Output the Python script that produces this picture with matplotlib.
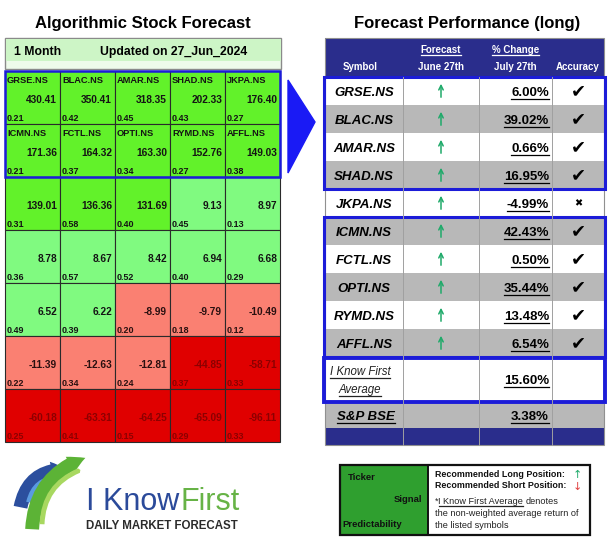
import matplotlib
matplotlib.use('Agg')
import matplotlib.pyplot as plt
from matplotlib.patches import Rectangle, Polygon, FancyArrowPatch

plt.rcParams['font.family'] = ['Liberation Sans', 'DejaVu Sans']

# ---- data: left heat grid ----
grid_tickers = [
    ['GRSE.NS', 'BLAC.NS', 'AMAR.NS', 'SHAD.NS', 'JKPA.NS'],
    ['ICMN.NS', 'FCTL.NS', 'OPTI.NS', 'RYMD.NS', 'AFFL.NS'],
]
grid_signals = [
    [430.41, 350.41, 318.35, 202.33, 176.40],
    [171.36, 164.32, 163.30, 152.76, 149.03],
    [139.01, 136.36, 131.69, 9.13, 8.97],
    [8.78, 8.67, 8.42, 6.94, 6.68],
    [6.52, 6.22, -8.99, -9.79, -10.49],
    [-11.39, -12.63, -12.81, -44.85, -58.71],
    [-60.18, -63.31, -64.25, -65.09, -96.11],
]
grid_predict = [
    [0.21, 0.42, 0.45, 0.43, 0.27],
    [0.21, 0.37, 0.34, 0.27, 0.38],
    [0.31, 0.58, 0.40, 0.45, 0.13],
    [0.36, 0.57, 0.52, 0.40, 0.29],
    [0.49, 0.39, 0.20, 0.18, 0.12],
    [0.22, 0.34, 0.24, 0.37, 0.33],
    [0.25, 0.41, 0.15, 0.29, 0.33],
]

# ---- data: right performance table ----
perf_symbols = ['GRSE.NS', 'BLAC.NS', 'AMAR.NS', 'SHAD.NS', 'JKPA.NS',
                'ICMN.NS', 'FCTL.NS', 'OPTI.NS', 'RYMD.NS', 'AFFL.NS']
perf_change = [6.00, 39.02, 0.66, 16.95, -4.99, 42.43, 0.50, 35.44, 13.48, 6.54]
perf_hit = [True, True, True, True, False, True, True, True, True, True]
avg_change = 15.60
bse_change = 3.38

NAVY = '#2a2d8c'
BLUE = '#1c1cd8'
GRAY_ROW = '#b8b8b8'


def cell_colors(v):
    if v >= 100:
        return '#62f22a', '#141414'
    if v > 0:
        return '#80fa80', '#141414'
    if v > -20:
        return '#fa8072', '#2a1010'
    return '#e00000', '#8c0000'


fig = plt.figure(figsize=(6.12, 5.45), dpi=100)
ax = fig.add_axes([0, 0, 1, 1])
ax.set_xlim(0, 612)
ax.set_ylim(545, 0)
ax.axis('off')
renderer = fig.canvas.get_renderer()
inv = ax.transData.inverted()


def right_edge(t):
    # data x of a text's right end, used to chain texts on one line
    bb = t.get_window_extent(renderer)
    return inv.transform([[bb.x1, bb.y0]])[0][0]


underlined = []

# ---------------- left panel ----------------
ax.text(143, 28, 'Algorithmic Stock Forecast', ha='center', fontsize=12, weight='bold')
ax.add_patch(Rectangle((5, 38), 276, 31, facecolor='#eefbea', edgecolor='#8a8a8a', lw=1))
ax.add_patch(Rectangle((5.5, 38.5), 275, 22, facecolor='#cdf5c6', edgecolor='none'))
ax.text(14, 55, '1 Month', fontsize=8.8, weight='bold')
ax.text(100, 55, 'Updated on 27_Jun_2024', fontsize=8.8, weight='bold')

GX0, GY0, CW, CH = 5, 71, 55, 53
for r, (vals, preds) in enumerate(zip(grid_signals, grid_predict)):
    for c, (v, p) in enumerate(zip(vals, preds)):
        x, y = GX0 + c * CW, GY0 + r * CH
        fc, tc = cell_colors(v)
        ax.add_patch(Rectangle((x, y), CW, CH, facecolor=fc, edgecolor='#2a2a2a', lw=0.8))
        if r < len(grid_tickers):
            ax.text(x + 2, y + 12, grid_tickers[r][c], fontsize=6.7, weight='bold', color=tc)
        ax.text(x + CW - 3, y + 32, f'{v:.2f}', ha='right', fontsize=7.3, weight='bold', color=tc)
        ax.text(x + 2, y + CH - 3, f'{p:.2f}', fontsize=6.5, weight='bold', color=tc)
ax.add_patch(Rectangle((GX0, GY0), 5 * CW, len(grid_tickers) * CH, facecolor='none',
                       edgecolor=BLUE, lw=1.8))

# blue pointer between panels
ax.add_patch(Polygon([[288, 80], [288, 173], [315, 122]], closed=True, color='#1a1af5'))

# ---------------- logo ----------------
ax.add_patch(FancyArrowPatch((20, 510), (70, 470), connectionstyle='arc3,rad=-0.45',
                             arrowstyle='simple,head_length=11,head_width=14,tail_width=10',
                             mutation_scale=1, color='#2c4f9e', lw=0))
ax.add_patch(FancyArrowPatch((28, 505), (63, 478), connectionstyle='arc3,rad=-0.45',
                             arrowstyle='simple,head_length=1,head_width=3,tail_width=3.5',
                             mutation_scale=1, color='#5a9be0', lw=0))
ax.add_patch(FancyArrowPatch((32, 532), (88, 457), connectionstyle='arc3,rad=-0.35',
                             arrowstyle='simple,head_length=12,head_width=13,tail_width=10',
                             mutation_scale=1, color='#5cb336', lw=0))
ax.add_patch(FancyArrowPatch((42, 527), (83, 469), connectionstyle='arc3,rad=-0.35',
                             arrowstyle='simple,head_length=1,head_width=3,tail_width=3.5',
                             mutation_scale=1, color='#a8d860', lw=0))
logo1 = ax.text(86, 510, 'I Know', fontsize=22, color='#2b4a9a')
ax.text(right_edge(logo1) + 1, 510, 'First', fontsize=22, color='#67b346')
ax.text(86, 529, 'DAILY MARKET FORECAST', fontsize=8.3, weight='bold', color='#2b2b2b')

# ---------------- right panel ----------------
ax.text(467, 28, 'Forecast Performance (long)', ha='center', fontsize=12, weight='bold')
TX = [325, 403, 479, 552, 604]
TH0, TH1, RH = 38, 77, 28
AVG_H, BSE_H, FOOT_H = 46, 25, 17
centers = [(TX[i] + TX[i + 1]) / 2 for i in range(4)]

ax.add_patch(Rectangle((TX[0], TH0), TX[-1] - TX[0], TH1 - TH0, facecolor=NAVY, edgecolor='none'))
hdr = dict(color='white', fontsize=7, weight='bold', ha='center')
ax.text(centers[0] - 4, 70, 'Symbol', **hdr)
underlined.append(ax.text(centers[1], 53, 'Forecast', **hdr))
ax.text(centers[1], 70, 'June 27th', **hdr)
underlined.append(ax.text(centers[2], 53, '% Change', **hdr))
ax.text(centers[2], 70, 'July 27th', **hdr)
ax.text(centers[3], 70, 'Accuracy', **hdr)

for i, (sym, chg, hit) in enumerate(zip(perf_symbols, perf_change, perf_hit)):
    y = TH1 + i * RH
    ax.add_patch(Rectangle((TX[0], y), TX[-1] - TX[0], RH,
                           facecolor='white' if i % 2 == 0 else GRAY_ROW, edgecolor='none'))
    ax.text(centers[0], y + 19, sym, ha='center', fontsize=9.5, weight='bold', style='italic')
    ax.annotate('', xy=(centers[1], y + 4), xytext=(centers[1], y + 23),
                arrowprops=dict(arrowstyle='->', color='#1faa6a', lw=1.1, mutation_scale=8))
    underlined.append(ax.text(TX[3] - 3, y + 19, f'{chg:.2f}%', ha='right',
                              fontsize=9.5, weight='bold'))
    if hit:
        ax.text(centers[3], y + RH / 2, '\u2714', ha='center', va='center',
                fontsize=13, family='DejaVu Sans')
    else:
        ax.text(centers[3], y + RH / 2, '\u2716', ha='center', va='center',
                fontsize=7, family='DejaVu Sans')

ya = TH1 + len(perf_symbols) * RH
ax.add_patch(Rectangle((TX[0], ya), TX[-1] - TX[0], AVG_H, facecolor='white', edgecolor='none'))
underlined.append(ax.text(centers[0] - 4, ya + 18, 'I Know First', ha='center', fontsize=8.3,
                          style='italic', color='#222222'))
underlined.append(ax.text(centers[0] - 4, ya + 36, 'Average', ha='center', fontsize=8.3,
                          style='italic', color='#222222'))
underlined.append(ax.text(TX[3] - 3, ya + 27, f'{avg_change:.2f}%', ha='right',
                          fontsize=9.5, weight='bold'))

yb = ya + AVG_H
ax.add_patch(Rectangle((TX[0], yb), TX[-1] - TX[0], BSE_H, facecolor=GRAY_ROW, edgecolor='none'))
underlined.append(ax.text(centers[0] + 2, yb + 17, 'S&P BSE', ha='center', fontsize=9.5,
                          weight='bold', style='italic'))
underlined.append(ax.text(TX[3] - 3, yb + 17, f'{bse_change:.2f}%', ha='right',
                          fontsize=9.5, weight='bold'))

yf = yb + BSE_H
ax.add_patch(Rectangle((TX[0], yf), TX[-1] - TX[0], FOOT_H, facecolor=NAVY, edgecolor='none'))

# grid lines of table
for x in TX[1:-1]:
    ax.plot([x, x], [TH1, yf + FOOT_H], color='#a0a0a0', lw=0.7)
ax.add_patch(Rectangle((TX[0], TH0), TX[-1] - TX[0], yf + FOOT_H - TH0, facecolor='none',
                       edgecolor='#909090', lw=0.8))

# blue group frames
for r0, r1 in [(0, 4), (5, 10)]:
    ax.add_patch(Rectangle((TX[0] - 1, TH1 + r0 * RH), TX[-1] - TX[0] + 2, (r1 - r0) * RH,
                           facecolor='none', edgecolor=BLUE, lw=2.2))
ax.add_patch(Rectangle((TX[0] - 1, ya + 1), TX[-1] - TX[0] + 2, AVG_H - 2,
                       facecolor='none', edgecolor=BLUE, lw=2.8))

# ---------------- legend box ----------------
LX, LY, LW, LH, LG = 340, 465, 250, 70, 88
ax.add_patch(Rectangle((LX, LY), LW, LH, facecolor='white', edgecolor='none'))
ax.add_patch(Rectangle((LX, LY), LG, LH, facecolor='#2f9f2f', edgecolor='none'))
ax.add_patch(Rectangle((LX, LY), LW, LH, facecolor='none', edgecolor='#111111', lw=1.6))
ax.plot([LX + LG, LX + LG], [LY, LY + LH], color='#111111', lw=1.4)
ax.text(LX + 8, 480, 'Ticker', fontsize=6.8, weight='bold', color='#111111')
ax.text(LX + LG - 6, 502, 'Signal', ha='right', fontsize=6.8, weight='bold', color='#111111')
ax.text(LX + 2, 527, 'Predictability', fontsize=6.8, weight='bold', color='#111111')
ax.text(LX + LG + 7, 477, 'Recommended Long Position:', fontsize=6.4, weight='bold', color='#111111')
ax.text(LX + LG + 7, 488, 'Recommended Short Position:', fontsize=6.4, weight='bold', color='#111111')
ax.text(577, 478, '\u2191', ha='center', fontsize=8, color='#1faa6a', family='DejaVu Sans')
ax.text(577, 490, '\u2193', ha='center', fontsize=8, color='#e04040', family='DejaVu Sans')
star = ax.text(LX + LG + 7, 504, '*', fontsize=6.6, color='#222222')
ikf = ax.text(right_edge(star), 504, 'I Know First Average', fontsize=6.6, color='#222222')
underlined.append(ikf)
ax.text(right_edge(ikf) + 2, 504, 'denotes', fontsize=6.6, color='#222222')
ax.text(LX + LG + 7, 516, 'the non-weighted average return of', fontsize=6.6, color='#222222')
ax.text(LX + LG + 7, 528, 'the listed symbols', fontsize=6.6, color='#222222')

# underline texts that carry an underline in the original
for t in underlined:
    bb = t.get_window_extent(renderer)
    (x0, y0), (x1, y1) = inv.transform([[bb.x0, bb.y0], [bb.x1, bb.y1]])
    yl = max(y0, y1) - 0.5
    ax.plot([x0, x1], [yl, yl], color=t.get_color(), lw=0.9)

fig.savefig('out.png', dpi=100)
